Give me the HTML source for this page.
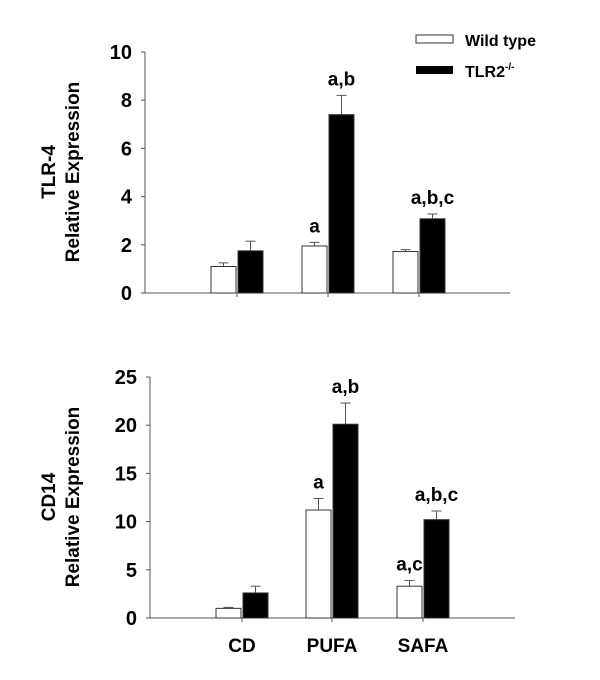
<!DOCTYPE html>
<html><head><meta charset="utf-8"><style>
body{margin:0;background:#fff;}
svg{display:block;font-family:"Liberation Sans",Arial,sans-serif;font-weight:bold;}
</style></head><body>
<svg id="chart" width="600" height="680" viewBox="0 0 600 680" xmlns="http://www.w3.org/2000/svg"></svg>
<script>
const categories = ["CD", "PUFA", "SAFA"];
const tlr4Wild = [1.1, 1.95, 1.72];
const tlr4WildErr = [0.15, 0.15, 0.08];
const tlr4Ko = [1.75, 7.4, 3.08];
const tlr4KoErr = [0.4, 0.8, 0.2];
const tlr4WildLabels = ["", "a", ""];
const tlr4KoLabels = ["", "a,b", "a,b,c"];
const tlr4Ticks = [0, 2, 4, 6, 8, 10];
const cd14Wild = [1.0, 11.2, 3.3];
const cd14WildErr = [0.1, 1.2, 0.6];
const cd14Ko = [2.6, 20.1, 10.2];
const cd14KoErr = [0.7, 2.2, 0.9];
const cd14WildLabels = ["", "a", "a,c"];
const cd14KoLabels = ["", "a,b", "a,b,c"];
const cd14Ticks = [0, 5, 10, 15, 20, 25];

const svg = document.getElementById('chart');
const NS = "http://www.w3.org/2000/svg";
function mk(tag, attrs, parent, text) {
  const e = document.createElementNS(NS, tag);
  for (const k in attrs) e.setAttribute(k, attrs[k]);
  if (text !== undefined) e.textContent = text;
  (parent || svg).appendChild(e);
  return e;
}

function panel(cfg) {
  const g = mk('g', {});
  
  
  const y = v => cfg.y0 - (v / cfg.max) * (cfg.y0 - cfg.yTop);
  const x = i => cfg.centers[i];
  // axes
  const ya = mk('line', {x1: cfg.x0, x2: cfg.x0, y1: y(cfg.max), y2: cfg.y0, stroke: '#555', 'stroke-width': 1}, g);
  
  
  const xa = mk('line', {x1: cfg.x0, x2: cfg.xEnd, y1: cfg.y0, y2: cfg.y0, stroke: '#555', 'stroke-width': 1}, g);
  
  
  cfg.ticks.forEach(t => {
    mk('line', {x1: cfg.x0 - 4, x2: cfg.x0, y1: y(t), y2: y(t), stroke: '#555'}, g);
    const tl = mk('text', {x: cfg.x0 - 13, y: y(t) + 7, 'text-anchor': 'end', 'font-size': 20}, g, String(t));
    
    
  });
  categories.forEach((c, i) => {
    mk('line', {x1: x(i), x2: x(i), y1: cfg.y0, y2: cfg.y0 + 4, stroke: '#555'}, g);
    const bars = [
      {v: cfg.wild[i], e: cfg.wildErr[i], lab: cfg.wildLabels[i], x0: x(i) - 26, fill: '#fff', n: 'bar-wild-'},
      {v: cfg.ko[i], e: cfg.koErr[i], lab: cfg.koLabels[i], x0: x(i) + 1, fill: '#000', n: 'bar-tlr2-'}
    ];
    bars.forEach(b => {
      const cx = b.x0 + 12.5;
      const el = mk('line', {x1: cx, x2: cx, y1: y(b.v), y2: y(b.v + b.e), stroke: '#555'}, g);
      
      
      mk('line', {x1: cx - 5, x2: cx + 5, y1: y(b.v + b.e), y2: y(b.v + b.e), stroke: '#555'}, g);
      const r = mk('rect', {x: b.x0, y: y(b.v), width: 25, height: cfg.y0 - y(b.v), fill: b.fill, stroke: '#333', 'stroke-width': 1}, g);
      
      
      if (b.lab) {
        const t = mk('text', {x: cx, y: y(b.v + b.e) - 10, 'text-anchor': 'middle', 'font-size': 19}, g, b.lab);
        
        
      }
    });
    if (cfg.showCats) {
      const ct = mk('text', {x: x(i), y: 652, 'text-anchor': 'middle', 'font-size': 19}, g, c);
      
      
    }
  });
  const t1 = mk('text', {transform: `translate(${cfg.titleX1},${cfg.titleY}) rotate(-90)`, 'text-anchor': 'middle', 'font-size': 19}, g, cfg.title);
  
  
  const t2 = mk('text', {transform: `translate(${cfg.titleX1 + 24},${cfg.titleY}) rotate(-90)`, 'text-anchor': 'middle', 'font-size': 19}, g, 'Relative Expression');
  
  
}

panel({name: 'tlr4-panel', x0: 145, xEnd: 510, y0: 293, yTop: 52, max: 10, centers: [237, 328, 419],
  wild: tlr4Wild, wildErr: tlr4WildErr, ko: tlr4Ko, koErr: tlr4KoErr,
  wildLabels: tlr4WildLabels, koLabels: tlr4KoLabels, ticks: tlr4Ticks,
  title: 'TLR-4', titleX1: 55, titleY: 172, showCats: false});
panel({name: 'cd14-panel', x0: 150, xEnd: 515, y0: 618, yTop: 377, max: 25, centers: [242, 332, 423],
  wild: cd14Wild, wildErr: cd14WildErr, ko: cd14Ko, koErr: cd14KoErr,
  wildLabels: cd14WildLabels, koLabels: cd14KoLabels, ticks: cd14Ticks,
  title: 'CD14', titleX1: 55, titleY: 497, showCats: true});

// legend
const lg = mk('g', {});


const lw = mk('rect', {x: 416, y: 35, width: 37, height: 8, fill: '#fff', stroke: '#333'}, lg);


const lt1 = mk('text', {x: 465, y: 46, 'font-size': 16}, lg, 'Wild type');


const lk = mk('rect', {x: 416, y: 66, width: 37, height: 8, fill: '#000'}, lg);


const lt2 = mk('text', {x: 465, y: 77, 'font-size': 16}, lg);


lt2.appendChild(document.createTextNode('TLR2'));
const sup = mk('tspan', {dy: -7, 'font-size': 10}, lt2, '-/-');
</script>
</body></html>
